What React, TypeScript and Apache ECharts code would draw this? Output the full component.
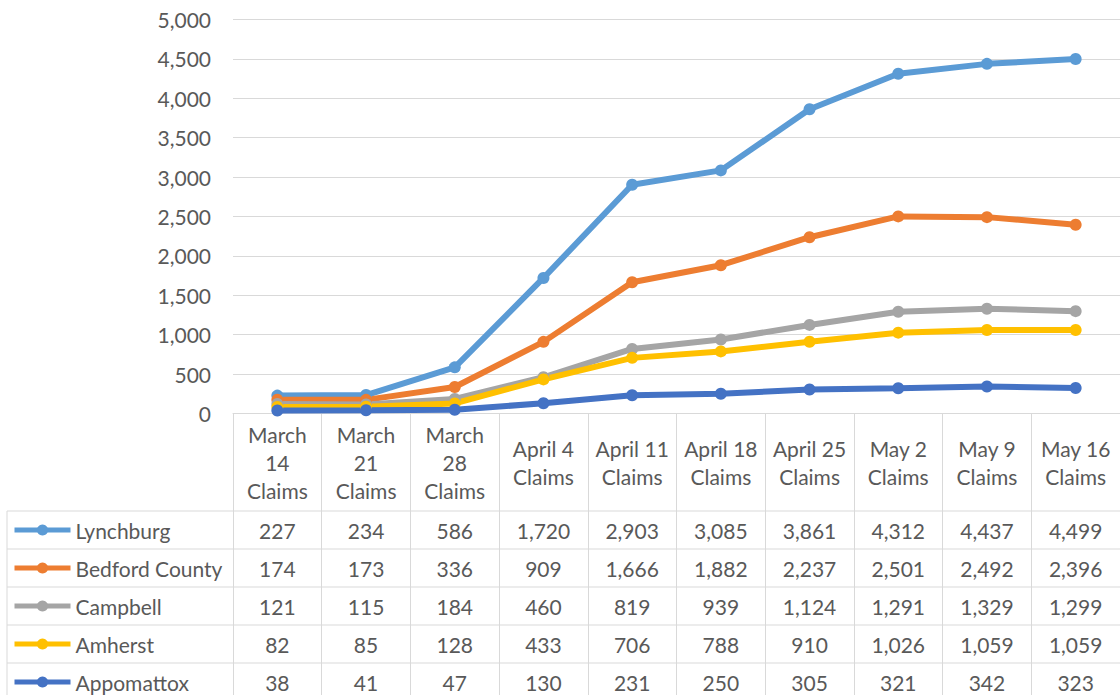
import React, { useEffect, useRef } from "react";
import * as echarts from "echarts";

const categories = [
  "March 14 Claims",
  "March 21 Claims",
  "March 28 Claims",
  "April 4 Claims",
  "April 11 Claims",
  "April 18 Claims",
  "April 25 Claims",
  "May 2 Claims",
  "May 9 Claims",
  "May 16 Claims",
];

const seriesNames = ["Lynchburg", "Bedford County", "Campbell", "Amherst", "Appomattox"];

const lynchburg = [227, 234, 586, 1720, 2903, 3085, 3861, 4312, 4437, 4499];
const bedfordCounty = [174, 173, 336, 909, 1666, 1882, 2237, 2501, 2492, 2396];
const campbell = [121, 115, 184, 460, 819, 939, 1124, 1291, 1329, 1299];
const amherst = [82, 85, 128, 433, 706, 788, 910, 1026, 1059, 1059];
const appomattox = [38, 41, 47, 130, 231, 250, 305, 321, 342, 323];

const seriesValues = [lynchburg, bedfordCounty, campbell, amherst, appomattox];
const seriesColors = ["#5B9BD5", "#ED7D31", "#A5A5A5", "#FFC000", "#4472C4"];

const yTicks = { min: 0, max: 5000, interval: 500 };

const FONT = "Lato";
const TEXT = "#595959";
const RULE = "#d9d9d9";

const fmt = (v: number) => v.toLocaleString("en-US");

const wrapCategory = (s: string) =>
  s.startsWith("March") ? s.split(" ").join("\n") : s.replace(" Claims", "\nClaims");

export default function App() {
  const ref = useRef<HTMLDivElement>(null);

  useEffect(() => {
    document.body.style.margin = "0";
    if (!ref.current) return;
    const chart = echarts.init(ref.current, null, { renderer: "svg" });

    const gridLeft = 233;
    const gridTop = 19.5;
    const gridHeight = 394;
    const axisY = gridTop + gridHeight;
    const headerBottom = 511;
    const rowH = 38;

    const valueAxes = seriesValues.map((vals, k) => ({
      type: "category",
      gridIndex: 0,
      position: "bottom",
      data: vals.map(fmt),
      axisLine: { show: false },
      axisTick: { show: false },
      splitLine: { show: false },
      axisLabel: {
        interval: 0,
        margin: headerBottom + rowH * k + rowH / 2 - axisY,
        verticalAlign: "middle",
        color: TEXT,
        fontSize: 21,
        fontFamily: FONT,
      },
    }));

    const tableLines: any[] = [];
    for (let k = 0; k < 5; k++) {
      const y = headerBottom + rowH * k;
      tableLines.push({
        type: "line",
        shape: { x1: 7, y1: y, x2: 1120, y2: y },
        style: { stroke: RULE, lineWidth: 1 },
        silent: true,
      });
    }
    tableLines.push({
      type: "line",
      shape: { x1: 7, y1: headerBottom, x2: 7, y2: 695 },
      style: { stroke: RULE, lineWidth: 1 },
      silent: true,
    });

    chart.setOption({
      animation: false,
      backgroundColor: "#ffffff",
      textStyle: { fontFamily: FONT },
      grid: { left: gridLeft, top: gridTop, width: 890, height: gridHeight, containLabel: false },
      legend: {
        data: seriesNames,
        orient: "vertical",
        left: 12,
        top: headerBottom + rowH / 2 - 12,
        height: 300,
        padding: 0,
        itemWidth: 56,
        itemHeight: 14,
        itemGap: rowH - 24,
        lineStyle: { width: 5 },
        textStyle: { color: TEXT, fontSize: 21, fontFamily: FONT, lineHeight: 24 },
        selectedMode: false,
      },
      xAxis: [
        {
          type: "category",
          gridIndex: 0,
          position: "bottom",
          data: categories,
          boundaryGap: true,
          axisLine: { show: true, lineStyle: { color: RULE, width: 1 } },
          axisTick: { show: true, length: 290, lineStyle: { color: RULE, width: 1 } },
          splitLine: { show: false },
          axisLabel: {
            interval: 0,
            formatter: wrapCategory,
            margin: (headerBottom - axisY) / 2,
            verticalAlign: "middle",
            lineHeight: 28,
            color: TEXT,
            fontSize: 21,
            fontFamily: FONT,
          },
        },
        ...valueAxes,
      ],
      yAxis: {
        type: "value",
        min: yTicks.min,
        max: yTicks.max,
        interval: yTicks.interval,
        axisLine: { show: false },
        axisTick: { show: false },
        splitLine: { lineStyle: { color: RULE, width: 1 } },
        axisLabel: {
          formatter: (v: number) => fmt(v),
          color: TEXT,
          fontSize: 21,
          fontFamily: FONT,
          margin: 22,
        },
      },
      series: seriesNames.map((name, i) => ({
        name,
        type: "line",
        data: seriesValues[i],
        xAxisIndex: 0,
        symbol: "circle",
        symbolSize: 12,
        lineStyle: { width: 6, color: seriesColors[i] },
        itemStyle: { color: seriesColors[i] },
        emphasis: { disabled: true },
      })),
      graphic: tableLines,
    });

    return () => chart.dispose();
  }, []);

  return <div ref={ref} style={{ width: 1120, height: 695 }} />;
}
